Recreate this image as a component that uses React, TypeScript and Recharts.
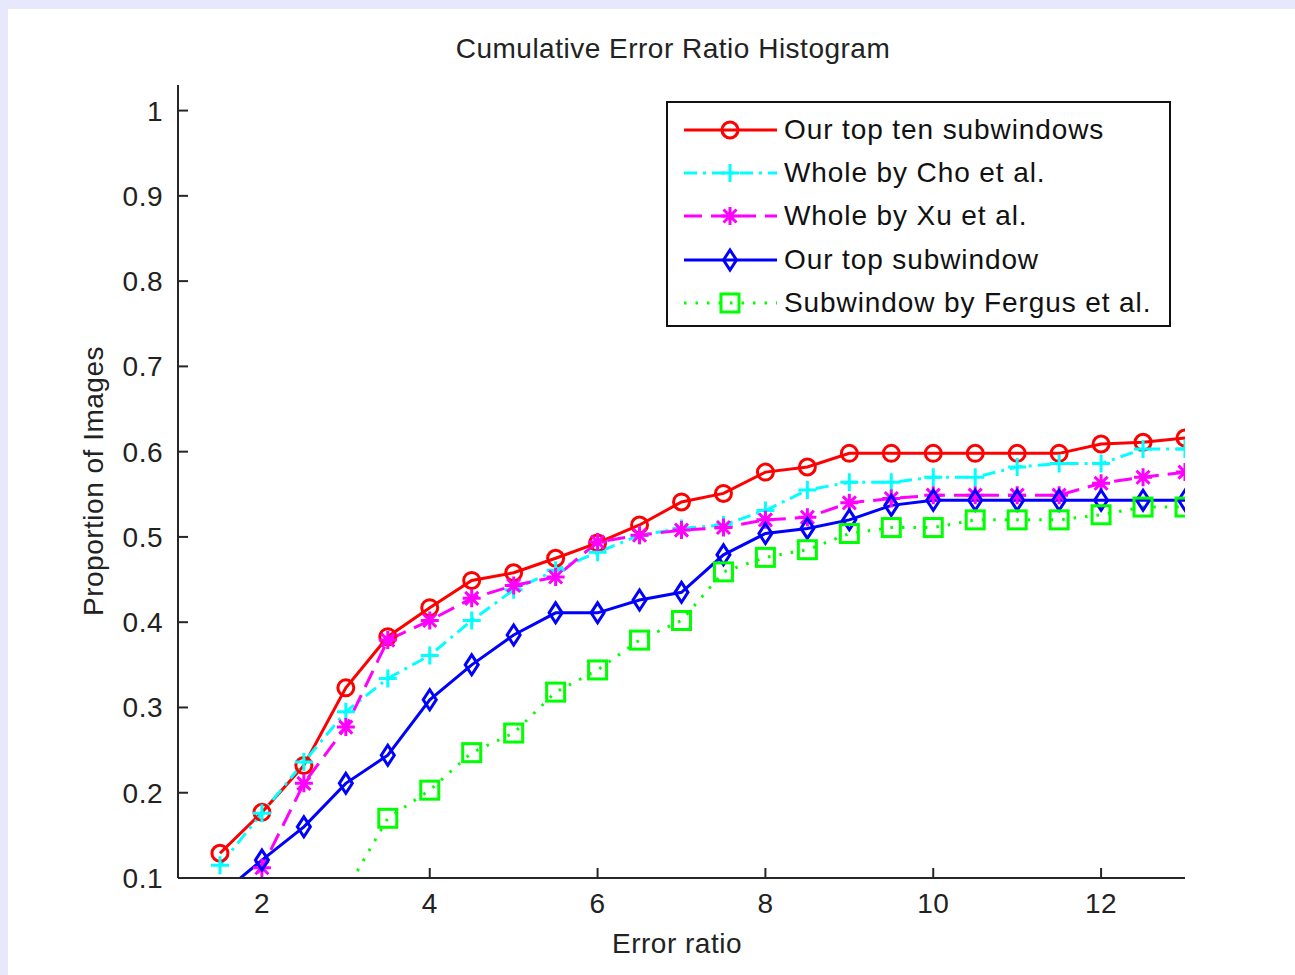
import React from 'react'
import { LineChart, Line, XAxis, YAxis, Legend } from 'recharts'

// error ratio sampled every 0.5
const ratios = [1.5, 2, 2.5, 3, 3.5, 4, 4.5, 5, 5.5, 6, 6.5, 7, 7.5, 8, 8.5, 9, 9.5, 10, 10.5, 11, 11.5, 12, 12.5, 13]

const topTen = [0.129, 0.177, 0.232, 0.323, 0.383, 0.417, 0.449, 0.458, 0.475, 0.493, 0.514, 0.541, 0.551, 0.576, 0.582, 0.598, 0.598, 0.598, 0.598, 0.598, 0.598, 0.609, 0.611, 0.616]
const cho = [0.115, 0.176, 0.236, 0.295, 0.334, 0.361, 0.402, 0.438, 0.461, 0.482, 0.502, 0.51, 0.514, 0.531, 0.555, 0.564, 0.564, 0.57, 0.57, 0.582, 0.586, 0.586, 0.603, 0.603]
const xu = [0.06, 0.112, 0.211, 0.277, 0.379, 0.402, 0.428, 0.443, 0.453, 0.494, 0.502, 0.508, 0.511, 0.52, 0.523, 0.54, 0.545, 0.549, 0.549, 0.549, 0.549, 0.563, 0.57, 0.576]
const topOne = [0.08, 0.121, 0.16, 0.211, 0.244, 0.309, 0.35, 0.385, 0.411, 0.411, 0.426, 0.435, 0.479, 0.504, 0.51, 0.52, 0.537, 0.543, 0.543, 0.543, 0.543, 0.543, 0.543, 0.543]
const fergus = [null, null, null, 0.085, 0.17, 0.203, 0.247, 0.27, 0.318, 0.344, 0.379, 0.402, 0.459, 0.476, 0.485, 0.504, 0.511, 0.511, 0.52, 0.52, 0.52, 0.526, 0.535, 0.535]

const xTicks = [2, 4, 6, 8, 10, 12]
const yTicks = [0.1, 0.2, 0.3, 0.4, 0.5, 0.6, 0.7, 0.8, 0.9, 1]

const series = [
  { key: 'topTen', name: 'Our top ten subwindows', color: '#ff0000', dash: undefined, marker: 'circle' },
  { key: 'cho', name: 'Whole by Cho et al.', color: '#00ffff', dash: '13 6 3 6', marker: 'plus' },
  { key: 'xu', name: 'Whole by Xu et al.', color: '#ff00ff', dash: '18 9', marker: 'star' },
  { key: 'topOne', name: 'Our top subwindow', color: '#0000ff', dash: undefined, marker: 'diamond' },
  { key: 'fergus', name: 'Subwindow by Fergus et al.', color: '#00ff00', dash: '2.5 9', marker: 'square' },
]

const data = ratios.map((r, i) => ({
  r,
  topTen: topTen[i],
  cho: cho[i],
  xu: xu[i],
  topOne: topOne[i],
  fergus: fergus[i],
}))

const FONT = '"Liberation Sans", Arial, Helvetica, sans-serif'
const INK = '#222'
const AXIS = '#262626'
const SW = 3

function Marker({ kind, x, y, color }: { kind: string; x: number; y: number; color: string }) {
  switch (kind) {
    case 'circle':
      return <circle cx={x} cy={y} r={8} fill="none" stroke={color} strokeWidth={SW} />
    case 'plus':
      return <path d={`M${x - 9},${y}H${x + 9}M${x},${y - 9}V${y + 9}`} stroke={color} strokeWidth={SW} fill="none" />
    case 'star':
      return (
        <path
          d={`M${x - 9},${y}H${x + 9}M${x},${y - 9}V${y + 9}M${x - 6.5},${y - 6.5}L${x + 6.5},${y + 6.5}M${x - 6.5},${y + 6.5}L${x + 6.5},${y - 6.5}`}
          stroke={color} strokeWidth={SW} fill="none"
        />
      )
    case 'diamond':
      return <polygon points={`${x},${y - 10} ${x + 6.5},${y} ${x},${y + 10} ${x - 6.5},${y}`} fill="none" stroke={color} strokeWidth={SW} />
    default:
      return <rect x={x - 9} y={y - 9} width={18} height={18} fill="none" stroke={color} strokeWidth={3} />
  }
}

const renderLegend = () => (
  <div style={{ border: '2px solid #111', background: '#fff', width: 505, height: 226, boxSizing: 'border-box', paddingTop: 5 }}>
    {series.map(s => (
      <div key={s.key} style={{ display: 'flex', alignItems: 'center', height: 43.3 }}>
        <svg width={116} height={30} style={{ flex: 'none' }}>
          <line x1={16} x2={109} y1={15} y2={15} stroke={s.color} strokeWidth={SW} strokeDasharray={s.dash} />
          <Marker kind={s.marker} x={62} y={15} color={s.color} />
        </svg>
        <span style={{ fontFamily: FONT, fontSize: 28, letterSpacing: 0.9, color: '#111', lineHeight: 1, whiteSpace: 'nowrap' }}>{s.name}</span>
      </div>
    ))}
  </div>
)

const tickStyle = { fontFamily: FONT, fontSize: 28, fill: INK, letterSpacing: 0.5 }

export default function App() {
  return (
    <div style={{ position: 'absolute', left: 0, top: 0, width: 1295, height: 975, background: '#e8e8fc' }}>
      <div style={{ position: 'absolute', left: 8, top: 9, width: 1287, height: 966, background: '#fff' }}>
        <LineChart width={1287} height={966} data={data} margin={{ top: 76, right: 110, bottom: 0, left: 0 }}>
          <XAxis
            dataKey="r" type="number" domain={[1, 13]} ticks={xTicks} allowDataOverflow
            height={97} tickSize={-10} tickMargin={25}
            axisLine={{ stroke: AXIS, strokeWidth: 2 }} tickLine={{ stroke: AXIS, strokeWidth: 2 }}
            tick={tickStyle}
          />
          <YAxis
            type="number" domain={[0.1, 1.03]} ticks={yTicks} allowDataOverflow
            width={170} tickSize={-10} tickMargin={25}
            tickFormatter={v => String(+Number(v).toFixed(1))}
            axisLine={{ stroke: AXIS, strokeWidth: 2 }} tickLine={{ stroke: AXIS, strokeWidth: 2 }}
            tick={tickStyle}
          />
          {series.map(s => (
            <Line
              key={s.key} dataKey={s.key} name={s.name} stroke={s.color} strokeWidth={SW}
              strokeDasharray={s.dash} isAnimationActive={false} activeDot={false}
              dot={(p: any) =>
                p.value == null || p.cy == null || isNaN(p.cy)
                  ? <g key={p.index} />
                  : <Marker key={p.index} kind={s.marker} x={p.cx} y={p.cy} color={s.color} />
              }
            />
          ))}
          <Legend
            layout="vertical" align="center" verticalAlign="middle"
            wrapperStyle={{ left: 658, top: 92, width: 505, height: 226 }}
            content={renderLegend}
          />
          <text x={665} y={49} textAnchor="middle" fontFamily={FONT} fontSize={28} letterSpacing={0.5} fill={INK}>
            Cumulative Error Ratio Histogram
          </text>
          <text x={669} y={944} textAnchor="middle" fontFamily={FONT} fontSize={28} letterSpacing={0.5} fill={INK}>
            Error ratio
          </text>
          <text x={95} y={472} transform="rotate(-90, 95, 472)" textAnchor="middle" fontFamily={FONT} fontSize={28} letterSpacing={0.5} fill={INK}>
            Proportion of Images
          </text>
        </LineChart>
      </div>
    </div>
  )
}
